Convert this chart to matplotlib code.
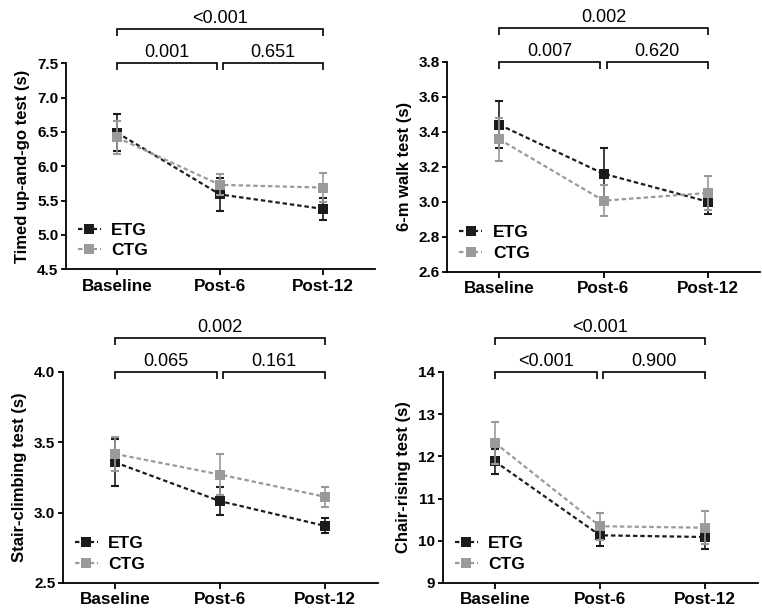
import matplotlib
matplotlib.use("Agg")
import matplotlib.pyplot as plt
import matplotlib.transforms as mtransforms
from matplotlib.ticker import FixedLocator, FormatStrFormatter

# ---------------- data ----------------
categories = ["Baseline", "Post-6", "Post-12"]
groups = ["ETG", "CTG"]

tug_etg = [6.49, 5.59, 5.38]
tug_etg_err = [0.27, 0.24, 0.165]
tug_ctg = [6.42, 5.73, 5.69]
tug_ctg_err = [0.245, 0.155, 0.21]
tug_p = ["0.001", "0.651", "<0.001"]

walk_etg = [3.44, 3.16, 3.00]
walk_etg_err = [0.133, 0.147, 0.07]
walk_ctg = [3.357, 3.006, 3.05]
walk_ctg_err = [0.123, 0.088, 0.096]
walk_p = ["0.007", "0.620", "0.002"]

stair_etg = [3.358, 3.082, 2.906]
stair_etg_err = [0.165, 0.10, 0.054]
stair_ctg = [3.418, 3.271, 3.113]
stair_ctg_err = [0.12, 0.147, 0.07]
stair_p = ["0.065", "0.161", "0.002"]

chair_etg = [11.88, 10.13, 10.09]
chair_etg_err = [0.30, 0.26, 0.275]
chair_ctg = [12.32, 10.345, 10.31]
chair_ctg_err = [0.49, 0.315, 0.385]
chair_p = ["<0.001", "0.900", "<0.001"]

ylabels = ["Timed up-and-go test (s)", "6-m walk test (s)",
           "Stair-climbing test (s)", "Chair-rising test (s)"]
yticks_list = [[4.5, 5.0, 5.5, 6.0, 6.5, 7.0, 7.5],
               [2.6, 2.8, 3.0, 3.2, 3.4, 3.6, 3.8],
               [2.5, 3.0, 3.5, 4.0],
               [9, 10, 11, 12, 13, 14]]
yfmt = ["%.1f", "%.1f", "%.1f", "%d"]

# ---------------- style ----------------
plt.rcParams["font.family"] = ["Liberation Sans", "DejaVu Sans"]
plt.rcParams["font.weight"] = "bold"
plt.rcParams["axes.labelweight"] = "bold"

W, H = 762, 612
fig = plt.figure(figsize=(W / 100, H / 100), dpi=100)

ETG_C = "#1c1c1c"
CTG_C = "#9a9a9a"

# axes boxes in pixels: left, bottom (from top), width, height
boxes = [(65.5, 269.3, 309, 206),
         (447, 271.7, 313, 210),
         (62.5, 583, 315, 211),
         (442.5, 583, 315, 211)]

data = [(tug_etg, tug_etg_err, tug_ctg, tug_ctg_err, tug_p),
        (walk_etg, walk_etg_err, walk_ctg, walk_ctg_err, walk_p),
        (stair_etg, stair_etg_err, stair_ctg, stair_ctg_err, stair_p),
        (chair_etg, chair_etg_err, chair_ctg, chair_ctg_err, chair_p)]

x = list(range(len(categories)))

for i, (box, d) in enumerate(zip(boxes, data)):
    l, b, w, h = box
    ax = fig.add_axes([l / W, 1 - b / H, w / W, h / H])
    e_vals, e_err, c_vals, c_err, pvals = d

    dash = (0, (2.0, 1.3))
    handles = []
    for vals, err, col, name in [(e_vals, e_err, ETG_C, groups[0]),
                                 (c_vals, c_err, CTG_C, groups[1])]:
        ax.errorbar(x, vals, yerr=err, fmt="none", ecolor=col,
                    elinewidth=1.2, capsize=2.8, capthick=1.5, zorder=3)
        ln, = ax.plot(x, vals, color=col, lw=1.6, linestyle=dash,
                      marker="s", markersize=7.5, markeredgewidth=0,
                      markerfacecolor=col, label=name, zorder=3)
        handles.append(ln)

    ax.set_xlim(-0.5, 2.5)
    yt = yticks_list[i]
    ax.set_ylim(yt[0], yt[-1])
    ax.yaxis.set_major_locator(FixedLocator(yt))
    ax.yaxis.set_major_formatter(FormatStrFormatter(yfmt[i]))
    ax.set_xticks(x)
    ax.set_xticklabels(categories, fontsize=12.3, fontweight="bold")
    for t in ax.get_yticklabels():
        t.set_fontsize(11)
        t.set_fontweight("bold")

    for s in ["top", "right"]:
        ax.spines[s].set_visible(False)
    for s in ["left", "bottom"]:
        ax.spines[s].set_linewidth(1.3)
    ax.tick_params(axis="x", length=4.3, width=1.3, pad=2.5, direction="out")
    ax.tick_params(axis="y", length=3.6, width=1.3, pad=1.5, direction="out",
                   labelsize=11)
    ax.set_ylabel(ylabels[i], fontsize=12, fontweight="bold", labelpad=5)

    leg = ax.legend(handles=handles, loc="lower left",
                    bbox_to_anchor=(12 / w, 11 / h), frameon=False,
                    borderpad=0, borderaxespad=0, handlelength=1.35,
                    handletextpad=0.6, labelspacing=0.32, numpoints=1,
                    prop={"size": 12.5, "weight": "bold"})

    trans = mtransforms.blended_transform_factory(ax.transData, ax.transAxes)

    def bracket(x0, x1, ypx, label):
        y = 1 + ypx / h
        yd = 1 + (ypx - 7) / h
        ax.plot([x0, x0, x1, x1], [yd, y, y, yd], transform=trans,
                color="black", lw=1.2, clip_on=False,
                solid_joinstyle="miter", solid_capstyle="butt")
        ax.text((x0 + x1) / 2, 1 + (ypx + 6) / h, label, transform=trans,
                ha="center", va="baseline", fontsize=13, fontweight="normal")

    bracket(0, 0.97, 0, pvals[0])
    bracket(1.03, 2, 0, pvals[1])
    bracket(0, 2, 34, pvals[2])

fig.savefig("out.png", dpi=100)
